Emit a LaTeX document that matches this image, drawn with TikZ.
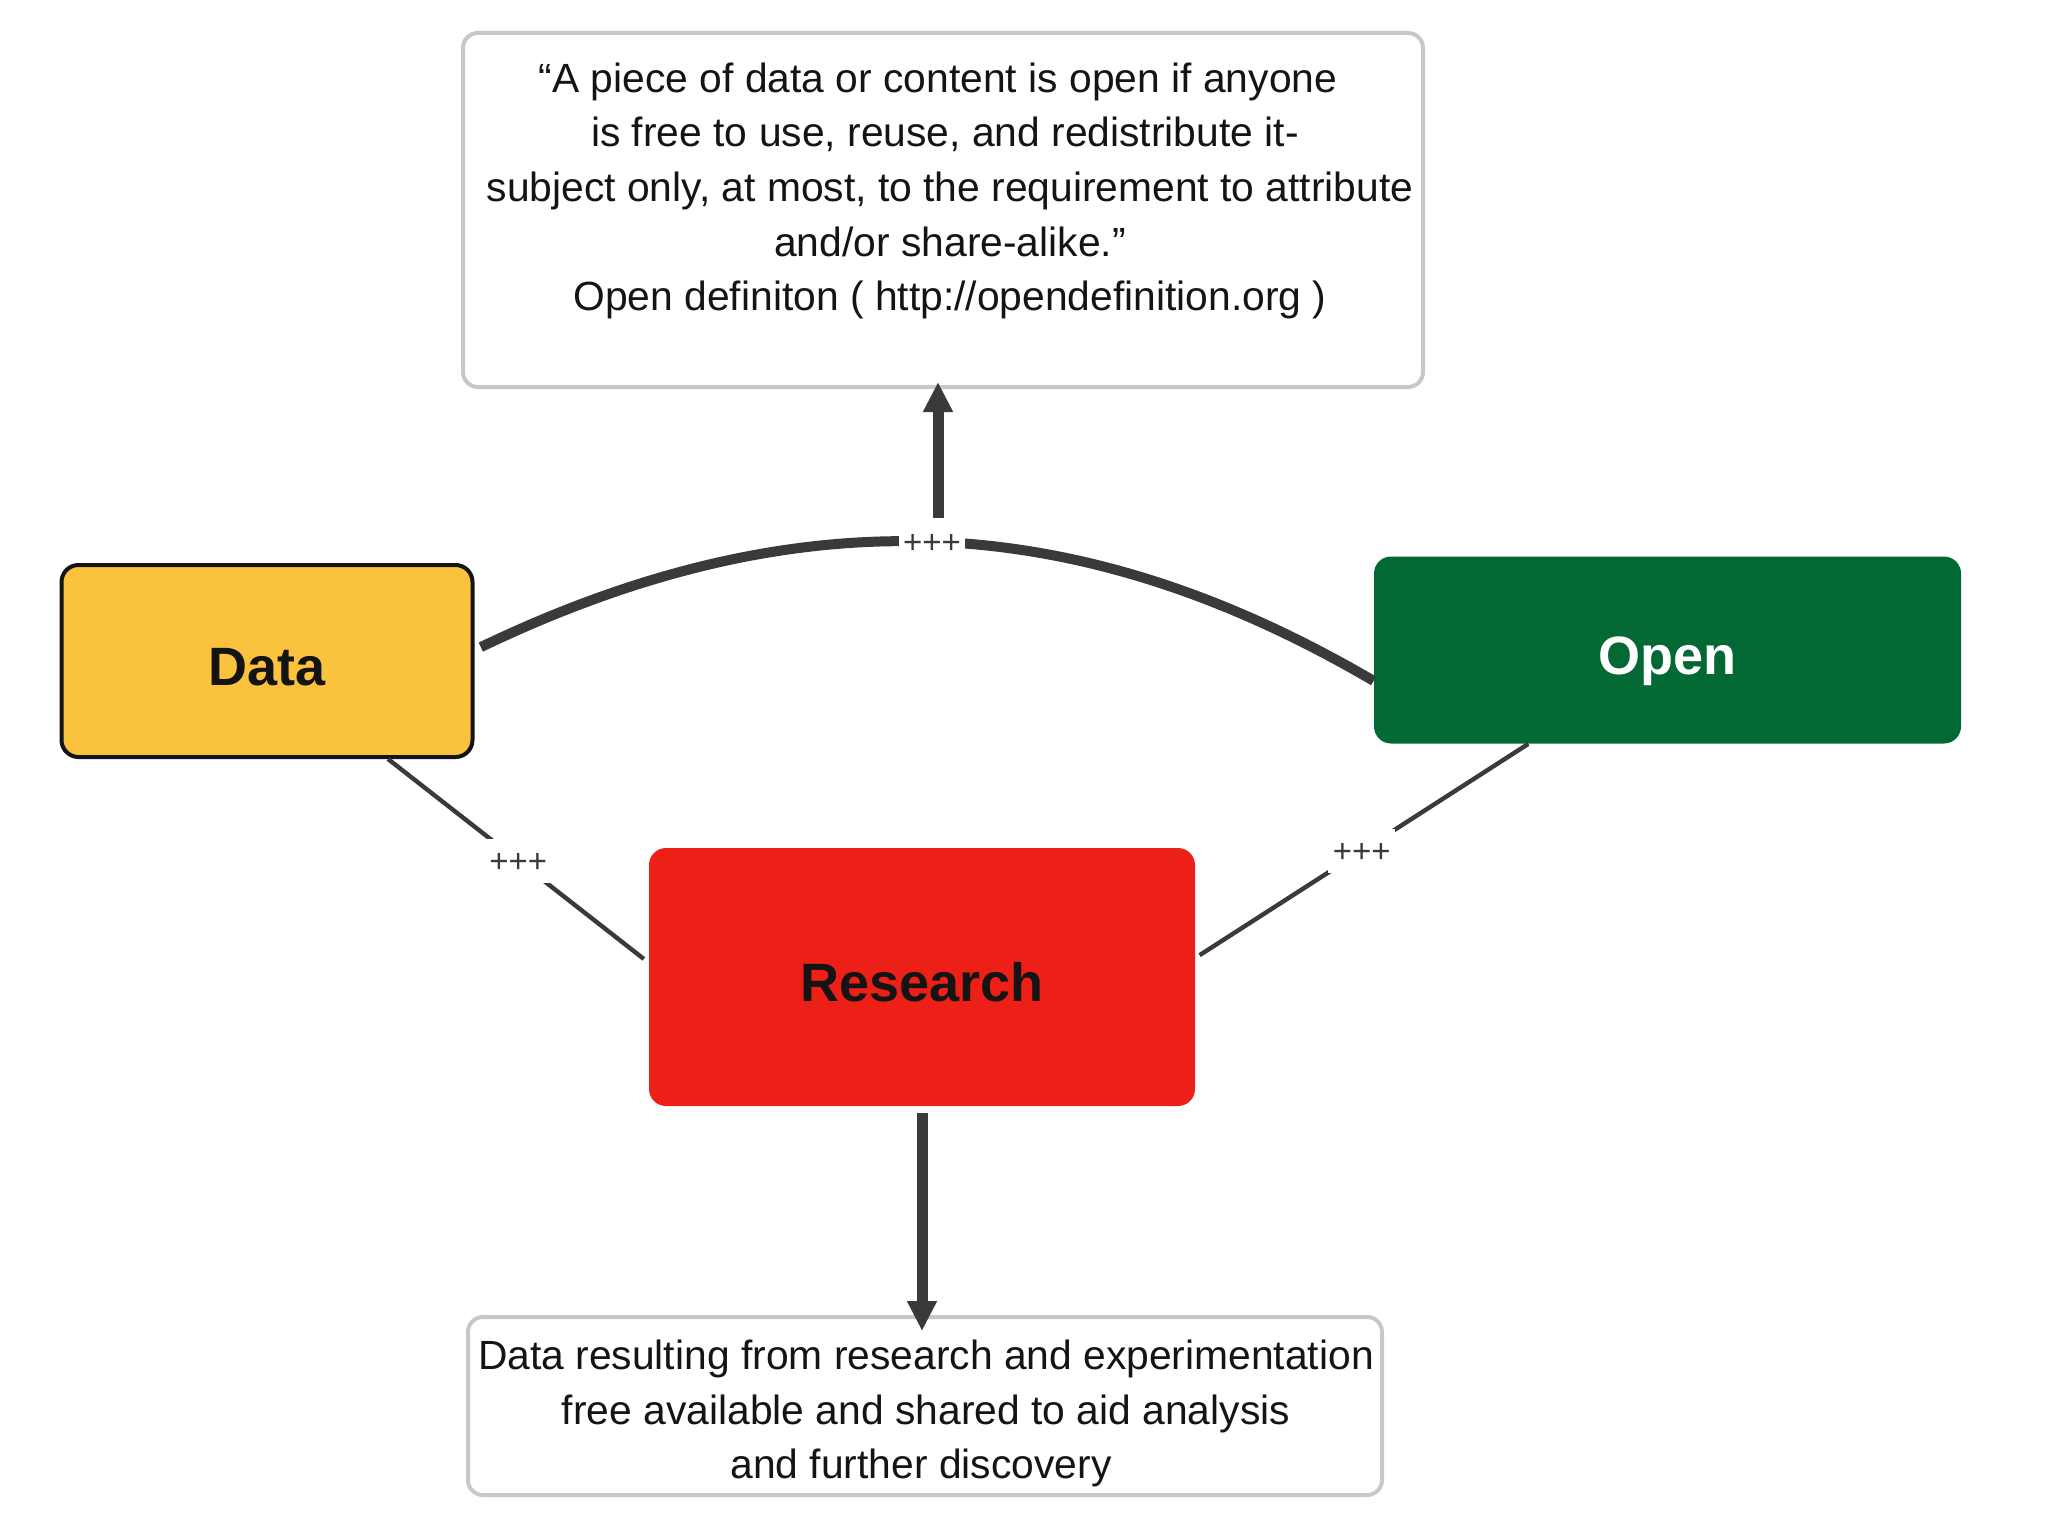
\documentclass[tikz,border=0pt]{standalone}
\usepackage{fontspec}
\setmainfont{Liberation Sans}
\usetikzlibrary{arrows.meta}
\definecolor{datayellow}{HTML}{FBC23E}
\definecolor{opengreen}{HTML}{036934}
\definecolor{researchred}{HTML}{EC2017}
\definecolor{linegray}{HTML}{3A3A3A}
\definecolor{boxgray}{HTML}{C8C8C8}
\definecolor{textblack}{HTML}{141414}
\begin{document}
\begin{tikzpicture}[x=0.5pt,y=-0.5pt,
  infobox/.style={draw=boxgray, line width=2pt, rounded corners=7.5pt, fill=white, inner sep=0pt},
  infotext/.style={align=center, text=textblack, font=\fontsize{20.4pt}{27.3pt}\selectfont, inner sep=0pt},
  keybox/.style={rounded corners=8.5pt, inner sep=0pt, text height=25.6pt, text depth=1.35pt, font=\bfseries\fontsize{27pt}{32pt}\selectfont},
  thickline/.style={draw=linegray, line width=5pt},
  thinline/.style={draw=linegray, line width=2.2pt},
  arrowline/.style={draw=linegray, line width=5.5pt, -{Triangle[width=14pt,length=15pt]}},
  pluslabel/.style={fill=white, text=linegray, font=\fontsize{16.5pt}{18pt}\selectfont, text height=14.15pt, text depth=2.35pt, inner xsep=2.25pt, inner ysep=2.75pt}
]
\useasboundingbox[fill=white] (0,0) rectangle (2048,1536);

% boxes
\node[infobox, minimum width=480pt, minimum height=177pt] (top) at (943,210) {};
\node[infotext] (toptext) at (950,191) {“A piece of data or content is open if anyone\rule{12pt}{0pt}\\
is free to use, reuse, and redistribute it-\rule{5pt}{0pt}\\
subject only, at most, to the requirement to attribute\\
and/or share-alike.”\\
Open definiton ( http://opendefinition.org )};

\node[infobox, minimum width=457pt, minimum height=89pt] (bottom) at (925,1406) {};
\node[infotext] (bottomtext) at (926,1413.5) {Data resulting from research and experimentation\\
free available and shared to aid analysis\\
and further discovery\rule{5pt}{0pt}};

\node[keybox, fill=datayellow, draw=textblack, line width=2pt, text=textblack, minimum width=205.5pt, minimum height=96pt] (data) at (267,661) {Data};
\node[keybox, fill=opengreen, text=white, minimum width=293.5pt, minimum height=93.5pt] (open) at (1667.5,650) {Open};
\node[keybox, fill=researchred, text=textblack, minimum width=273pt, minimum height=129pt] (research) at (922,977) {Research};

% connectors
\draw[thickline, shorten <=3.5pt] (data.3) .. controls (795.5,496.3) and (1074,505.5) .. (open.186)
  node[pluslabel, pos=0.5] (plusA) {+++};
\draw[thinline, shorten >=3pt] (data.-39) -- (research.177) node[pluslabel, pos=0.5] (plusB) {+++};
\draw[thinline, shorten >=2.5pt] (open.-146) -- (research.4) node[pluslabel, pos=0.5] (plusC) {+++};

\coordinate (upstart) at (938,518);
\draw[arrowline, shorten >=-3.5pt] (upstart) -- (upstart |- top.south);
\draw[arrowline, shorten <=3.5pt, shorten >=-8pt] (research.south) -- (research.south |- bottom.north);
\end{tikzpicture}
\end{document}
